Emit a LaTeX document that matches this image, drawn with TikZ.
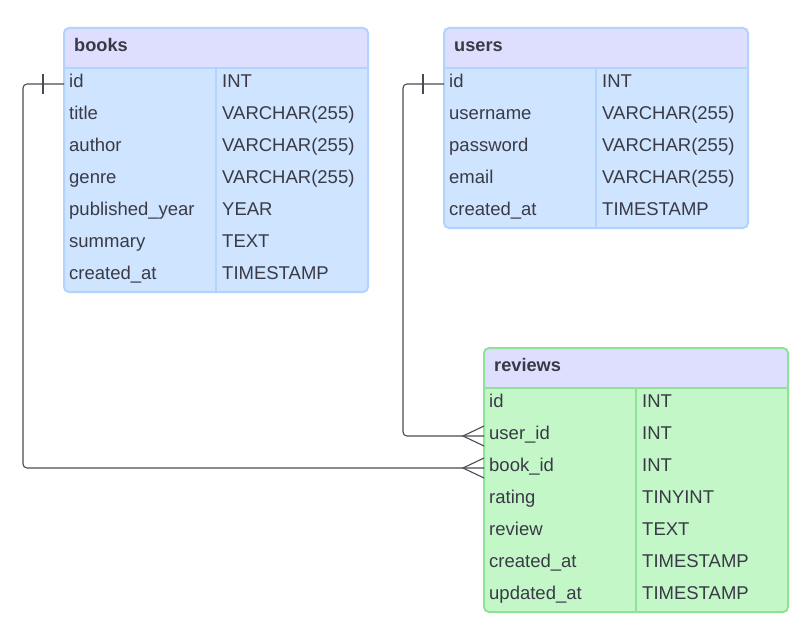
\documentclass[tikz,border=0pt]{standalone}
\usepackage{fontspec}
\setmainfont{Liberation Sans}
\usetikzlibrary{calc}
\definecolor{hdr}{HTML}{DEDEFF}
\definecolor{bluefill}{HTML}{CFE4FF}
\definecolor{blueline}{HTML}{B3D3FF}
\definecolor{greenfill}{HTML}{C3F7C8}
\definecolor{greenline}{HTML}{8EE396}
\definecolor{txt}{HTML}{3A3A46}
\definecolor{conn}{HTML}{4A4A55}
\tikzset{
  hdrtext/.style={anchor=base west, inner sep=0pt, text=txt, font=\fontsize{18.2}{21}\selectfont\bfseries},
  celltext/.style={anchor=base west, inner sep=0pt, text=txt, font=\fontsize{18.5}{21}\selectfont},
  connector/.style={draw=conn, line width=1.1pt},
}
% #1 name, #2 x, #3 y, #4 rows, #5 fill, #6 line, #7 title, #8 list field/type
\newcommand\ertable[8]{%
  \pgfmathsetmacro\ertbot{#3+40+32*#4}%
  \begin{scope}
    \clip[rounded corners=5pt] (#2,#3) rectangle (#2+304,\ertbot);
    \fill[hdr] (#2,#3) rectangle (#2+304,#3+40);
    \fill[#5] (#2,#3+40) rectangle (#2+304,\ertbot);
  \end{scope}
  \draw[#6, line width=1.5pt] (#2,#3+40) -- (#2+304,#3+40);
  \draw[#6, line width=1.5pt] (#2+152,#3+40) -- (#2+152,\ertbot);
  \draw[#6, line width=2pt, rounded corners=5pt] (#2,#3) rectangle (#2+304,\ertbot);
  \node[hdrtext] (#1-title) at (#2+10,#3+23.5) {#7};
  \foreach \f/\t [count=\i] in {#8} {
    \coordinate (#1-\i) at (#2,#3+40+32*\i-16);
    \node[celltext] (#1-\i-f) at (#2+5,#3+40+32*\i-12.7) {\f};
    \node[celltext] (#1-\i-t) at (#2+158,#3+40+32*\i-12.7) {\t};
  }%
}
\begin{document}
\begin{tikzpicture}[x=1pt,y=-1pt]
\useasboundingbox[fill=white] (0,0) rectangle (810,634);

\ertable{books}{64}{28}{7}{bluefill}{blueline}{books}{id/INT, title/VARCHAR(255), author/VARCHAR(255), genre/VARCHAR(255), published\_year/YEAR, summary/TEXT, created\_at/TIMESTAMP}

\ertable{users}{444}{28}{5}{bluefill}{blueline}{users}{id/INT, username/VARCHAR(255), password/VARCHAR(255), email/VARCHAR(255), created\_at/TIMESTAMP}

\ertable{reviews}{484}{348}{7}{greenfill}{greenline}{reviews}{id/INT, user\_id/INT, book\_id/INT, rating/TINYINT, review/TEXT, created\_at/TIMESTAMP, updated\_at/TIMESTAMP}

% books.id -> reviews.book_id
\draw[connector, rounded corners=4pt] (books-1) -- ++(-41,0) |- (reviews-3);
\draw[connector] ($(books-1)+(-21,-10)$) -- ($(books-1)+(-21,10)$);
\draw[connector] ($(reviews-3)+(0,-10)$) -- ($(reviews-3)+(-21,0)$) -- ($(reviews-3)+(0,10)$);

% users.id -> reviews.user_id
\draw[connector, rounded corners=4pt] (users-1) -- ++(-41,0) |- (reviews-2);
\draw[connector] ($(users-1)+(-21,-10)$) -- ($(users-1)+(-21,10)$);
\draw[connector] ($(reviews-2)+(0,-10)$) -- ($(reviews-2)+(-21,0)$) -- ($(reviews-2)+(0,10)$);
\end{tikzpicture}
\end{document}
